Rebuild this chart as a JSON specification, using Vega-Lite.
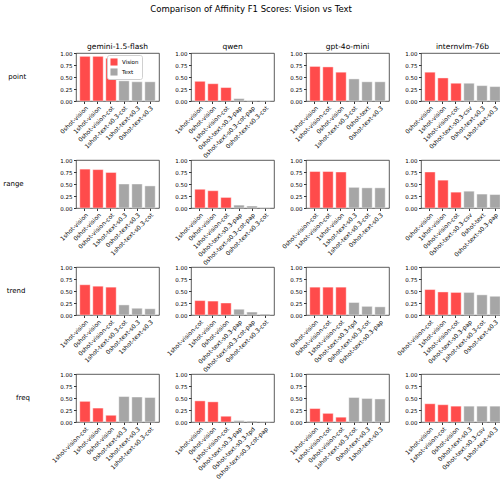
{
  "$schema": "https://vega.github.io/schema/vega-lite/v6.json",
  "padding": {"left": 3, "top": 5, "right": 10, "bottom": 5},
  "title": {"text": "Comparison of Affinity F1 Scores: Vision vs Text", "fontSize": 8.5, "fontWeight": "normal", "font": "DejaVu Sans", "color": "#000", "offset": 29, "anchor": "start", "dx": 147},
  "config": {
    "font": "DejaVu Sans",
    "view": {"stroke": "#333", "strokeWidth": 0.8},
    "axis": {"labelFont": "DejaVu Sans", "labelColor": "#000", "tickColor": "#333", "domain": false, "grid": false, "tickSize": 2.5, "labelFontSize": 5.5}
  },
  "data": {"values": [
    {"model": "gemini-1.5-flash", "metric": "point", "label": "0shot-vision", "type": "Vision", "order": 1, "value": 0.93},
    {"model": "gemini-1.5-flash", "metric": "point", "label": "1shot-vision", "type": "Vision", "order": 2, "value": 0.93},
    {"model": "gemini-1.5-flash", "metric": "point", "label": "0shot-vision-cot", "type": "Vision", "order": 3, "value": 0.89},
    {"model": "gemini-1.5-flash", "metric": "point", "label": "1shot-text-s0.3-cot", "type": "Text", "order": 4, "value": 0.42},
    {"model": "gemini-1.5-flash", "metric": "point", "label": "1shot-text-s0.3", "type": "Text", "order": 5, "value": 0.40},
    {"model": "gemini-1.5-flash", "metric": "point", "label": "0shot-text-s0.3", "type": "Text", "order": 6, "value": 0.40},

    {"model": "qwen", "metric": "point", "label": "1shot-vision", "type": "Vision", "order": 1, "value": 0.41},
    {"model": "qwen", "metric": "point", "label": "0shot-vision", "type": "Vision", "order": 2, "value": 0.36},
    {"model": "qwen", "metric": "point", "label": "1shot-vision-cot", "type": "Vision", "order": 3, "value": 0.28},
    {"model": "qwen", "metric": "point", "label": "0shot-text-s0.3-pap", "type": "Text", "order": 4, "value": 0.05},
    {"model": "qwen", "metric": "point", "label": "0shot-text-s0.3-cot-pap", "type": "Text", "order": 5, "value": 0.012},
    {"model": "qwen", "metric": "point", "label": "0shot-text-s0.3-cot", "type": "Text", "order": 6, "value": 0.006},

    {"model": "gpt-4o-mini", "metric": "point", "label": "1shot-vision", "type": "Vision", "order": 1, "value": 0.72},
    {"model": "gpt-4o-mini", "metric": "point", "label": "1shot-vision-cot", "type": "Vision", "order": 2, "value": 0.71},
    {"model": "gpt-4o-mini", "metric": "point", "label": "0shot-vision", "type": "Vision", "order": 3, "value": 0.60},
    {"model": "gpt-4o-mini", "metric": "point", "label": "1shot-text-s0.3-cot", "type": "Text", "order": 4, "value": 0.46},
    {"model": "gpt-4o-mini", "metric": "point", "label": "0shot-text", "type": "Text", "order": 5, "value": 0.40},
    {"model": "gpt-4o-mini", "metric": "point", "label": "0shot-text-s0.3", "type": "Text", "order": 6, "value": 0.40},

    {"model": "internvlm-76b", "metric": "point", "label": "0shot-vision", "type": "Vision", "order": 1, "value": 0.60},
    {"model": "internvlm-76b", "metric": "point", "label": "1shot-vision", "type": "Vision", "order": 2, "value": 0.48},
    {"model": "internvlm-76b", "metric": "point", "label": "1shot-vision-cot", "type": "Vision", "order": 3, "value": 0.37},
    {"model": "internvlm-76b", "metric": "point", "label": "0shot-text-s0.3-csv", "type": "Text", "order": 4, "value": 0.37},
    {"model": "internvlm-76b", "metric": "point", "label": "0shot-text-s0.3", "type": "Text", "order": 5, "value": 0.32},
    {"model": "internvlm-76b", "metric": "point", "label": "1shot-text-s0.3", "type": "Text", "order": 6, "value": 0.30},

    {"model": "gemini-1.5-flash", "metric": "range", "label": "1shot-vision", "type": "Vision", "order": 1, "value": 0.81},
    {"model": "gemini-1.5-flash", "metric": "range", "label": "0shot-vision", "type": "Vision", "order": 2, "value": 0.80},
    {"model": "gemini-1.5-flash", "metric": "range", "label": "0shot-vision-cot", "type": "Vision", "order": 3, "value": 0.74},
    {"model": "gemini-1.5-flash", "metric": "range", "label": "1shot-text-s0.3", "type": "Text", "order": 4, "value": 0.50},
    {"model": "gemini-1.5-flash", "metric": "range", "label": "0shot-text-s0.3", "type": "Text", "order": 5, "value": 0.50},
    {"model": "gemini-1.5-flash", "metric": "range", "label": "1shot-text-s0.3-cot", "type": "Text", "order": 6, "value": 0.46},

    {"model": "qwen", "metric": "range", "label": "1shot-vision", "type": "Vision", "order": 1, "value": 0.39},
    {"model": "qwen", "metric": "range", "label": "0shot-vision", "type": "Vision", "order": 2, "value": 0.36},
    {"model": "qwen", "metric": "range", "label": "1shot-vision-cot", "type": "Vision", "order": 3, "value": 0.22},
    {"model": "qwen", "metric": "range", "label": "0shot-text-s0.3-pap", "type": "Text", "order": 4, "value": 0.06},
    {"model": "qwen", "metric": "range", "label": "0shot-text-s0.3-cot-pap", "type": "Text", "order": 5, "value": 0.04},
    {"model": "qwen", "metric": "range", "label": "0shot-text-s0.3-cot", "type": "Text", "order": 6, "value": 0.01},

    {"model": "gpt-4o-mini", "metric": "range", "label": "0shot-vision-cot", "type": "Vision", "order": 1, "value": 0.76},
    {"model": "gpt-4o-mini", "metric": "range", "label": "1shot-vision-cot", "type": "Vision", "order": 2, "value": 0.76},
    {"model": "gpt-4o-mini", "metric": "range", "label": "1shot-vision", "type": "Vision", "order": 3, "value": 0.75},
    {"model": "gpt-4o-mini", "metric": "range", "label": "1shot-text-s0.3", "type": "Text", "order": 4, "value": 0.43},
    {"model": "gpt-4o-mini", "metric": "range", "label": "1shot-text-s0.3-cot", "type": "Text", "order": 5, "value": 0.42},
    {"model": "gpt-4o-mini", "metric": "range", "label": "0shot-text-s0.3", "type": "Text", "order": 6, "value": 0.42},

    {"model": "internvlm-76b", "metric": "range", "label": "0shot-vision", "type": "Vision", "order": 1, "value": 0.75},
    {"model": "internvlm-76b", "metric": "range", "label": "1shot-vision", "type": "Vision", "order": 2, "value": 0.58},
    {"model": "internvlm-76b", "metric": "range", "label": "0shot-vision-cot", "type": "Vision", "order": 3, "value": 0.33},
    {"model": "internvlm-76b", "metric": "range", "label": "0shot-text-s0.3-csv", "type": "Text", "order": 4, "value": 0.35},
    {"model": "internvlm-76b", "metric": "range", "label": "0shot-text", "type": "Text", "order": 5, "value": 0.29},
    {"model": "internvlm-76b", "metric": "range", "label": "0shot-text-s0.3-pap", "type": "Text", "order": 6, "value": 0.28},

    {"model": "gemini-1.5-flash", "metric": "trend", "label": "1shot-vision", "type": "Vision", "order": 1, "value": 0.63},
    {"model": "gemini-1.5-flash", "metric": "trend", "label": "0shot-vision", "type": "Vision", "order": 2, "value": 0.60},
    {"model": "gemini-1.5-flash", "metric": "trend", "label": "0shot-vision-cot", "type": "Vision", "order": 3, "value": 0.58},
    {"model": "gemini-1.5-flash", "metric": "trend", "label": "1shot-text-s0.3-cot", "type": "Text", "order": 4, "value": 0.21},
    {"model": "gemini-1.5-flash", "metric": "trend", "label": "0shot-text-s0.3", "type": "Text", "order": 5, "value": 0.14},
    {"model": "gemini-1.5-flash", "metric": "trend", "label": "1shot-text-s0.3", "type": "Text", "order": 6, "value": 0.13},

    {"model": "qwen", "metric": "trend", "label": "1shot-vision-cot", "type": "Vision", "order": 1, "value": 0.30},
    {"model": "qwen", "metric": "trend", "label": "1shot-vision", "type": "Vision", "order": 2, "value": 0.29},
    {"model": "qwen", "metric": "trend", "label": "0shot-vision", "type": "Vision", "order": 3, "value": 0.25},
    {"model": "qwen", "metric": "trend", "label": "0shot-text-s0.3-pap", "type": "Text", "order": 4, "value": 0.12},
    {"model": "qwen", "metric": "trend", "label": "0shot-text-s0.3-cot-pap", "type": "Text", "order": 5, "value": 0.06},
    {"model": "qwen", "metric": "trend", "label": "0shot-text-s0.3-cot", "type": "Text", "order": 6, "value": 0.02},

    {"model": "gpt-4o-mini", "metric": "trend", "label": "0shot-vision", "type": "Vision", "order": 1, "value": 0.58},
    {"model": "gpt-4o-mini", "metric": "trend", "label": "0shot-vision-cot", "type": "Vision", "order": 2, "value": 0.58},
    {"model": "gpt-4o-mini", "metric": "trend", "label": "1shot-vision-cot", "type": "Vision", "order": 3, "value": 0.58},
    {"model": "gpt-4o-mini", "metric": "trend", "label": "0shot-text-s0.3-tpd", "type": "Text", "order": 4, "value": 0.26},
    {"model": "gpt-4o-mini", "metric": "trend", "label": "0shot-text-s0.3-cot", "type": "Text", "order": 5, "value": 0.18},
    {"model": "gpt-4o-mini", "metric": "trend", "label": "0shot-text-s0.3-pap", "type": "Text", "order": 6, "value": 0.17},

    {"model": "internvlm-76b", "metric": "trend", "label": "0shot-vision-cot", "type": "Vision", "order": 1, "value": 0.53},
    {"model": "internvlm-76b", "metric": "trend", "label": "1shot-vision", "type": "Vision", "order": 2, "value": 0.48},
    {"model": "internvlm-76b", "metric": "trend", "label": "1shot-vision-cot", "type": "Vision", "order": 3, "value": 0.47},
    {"model": "internvlm-76b", "metric": "trend", "label": "0shot-text-s0.3-pap", "type": "Text", "order": 4, "value": 0.47},
    {"model": "internvlm-76b", "metric": "trend", "label": "1shot-text-s0.3-cot", "type": "Text", "order": 5, "value": 0.42},
    {"model": "internvlm-76b", "metric": "trend", "label": "0shot-text-s0.3", "type": "Text", "order": 6, "value": 0.39},

    {"model": "gemini-1.5-flash", "metric": "freq", "label": "1shot-vision-cot", "type": "Vision", "order": 1, "value": 0.43},
    {"model": "gemini-1.5-flash", "metric": "freq", "label": "1shot-vision", "type": "Vision", "order": 2, "value": 0.29},
    {"model": "gemini-1.5-flash", "metric": "freq", "label": "0shot-vision", "type": "Vision", "order": 3, "value": 0.14},
    {"model": "gemini-1.5-flash", "metric": "freq", "label": "0shot-text-s0.3", "type": "Text", "order": 4, "value": 0.53},
    {"model": "gemini-1.5-flash", "metric": "freq", "label": "1shot-text-s0.3", "type": "Text", "order": 5, "value": 0.52},
    {"model": "gemini-1.5-flash", "metric": "freq", "label": "1shot-text-s0.3-cot", "type": "Text", "order": 6, "value": 0.51},

    {"model": "qwen", "metric": "freq", "label": "1shot-vision", "type": "Vision", "order": 1, "value": 0.44},
    {"model": "qwen", "metric": "freq", "label": "0shot-vision", "type": "Vision", "order": 2, "value": 0.42},
    {"model": "qwen", "metric": "freq", "label": "1shot-vision-cot", "type": "Vision", "order": 3, "value": 0.12},
    {"model": "qwen", "metric": "freq", "label": "0shot-text-s0.3-pap", "type": "Text", "order": 4, "value": 0.03},
    {"model": "qwen", "metric": "freq", "label": "0shot-text-s0.3-tpd", "type": "Text", "order": 5, "value": 0.02},
    {"model": "qwen", "metric": "freq", "label": "0shot-text-s0.3-cot-pap", "type": "Text", "order": 6, "value": 0.01},

    {"model": "gpt-4o-mini", "metric": "freq", "label": "1shot-vision", "type": "Vision", "order": 1, "value": 0.28},
    {"model": "gpt-4o-mini", "metric": "freq", "label": "1shot-vision-cot", "type": "Vision", "order": 2, "value": 0.18},
    {"model": "gpt-4o-mini", "metric": "freq", "label": "0shot-vision-cot", "type": "Vision", "order": 3, "value": 0.10},
    {"model": "gpt-4o-mini", "metric": "freq", "label": "1shot-text-s0.3-cot", "type": "Text", "order": 4, "value": 0.51},
    {"model": "gpt-4o-mini", "metric": "freq", "label": "0shot-text-s0.3", "type": "Text", "order": 5, "value": 0.49},
    {"model": "gpt-4o-mini", "metric": "freq", "label": "1shot-text-s0.3", "type": "Text", "order": 6, "value": 0.48},

    {"model": "internvlm-76b", "metric": "freq", "label": "1shot-vision", "type": "Vision", "order": 1, "value": 0.38},
    {"model": "internvlm-76b", "metric": "freq", "label": "1shot-vision-cot", "type": "Vision", "order": 2, "value": 0.36},
    {"model": "internvlm-76b", "metric": "freq", "label": "0shot-vision", "type": "Vision", "order": 3, "value": 0.33},
    {"model": "internvlm-76b", "metric": "freq", "label": "0shot-text-s0.3", "type": "Text", "order": 4, "value": 0.33},
    {"model": "internvlm-76b", "metric": "freq", "label": "0shot-text-s0.3-csv", "type": "Text", "order": 5, "value": 0.33},
    {"model": "internvlm-76b", "metric": "freq", "label": "1shot-text-s0.3", "type": "Text", "order": 6, "value": 0.33}
  ]},
  "facet": {
    "row": {"field": "metric", "type": "nominal", "sort": ["point", "range", "trend", "freq"], "title": null,
      "header": {"labelAngle": 0, "labelOrient": "left", "labelAlign": "right", "labelFontSize": 7, "labelFont": "DejaVu Sans", "labelColor": "#000", "labelPadding": 32}},
    "column": {"field": "model", "type": "nominal", "sort": ["gemini-1.5-flash", "qwen", "gpt-4o-mini", "internvlm-76b"], "title": null,
      "header": {"labelFontSize": 7.5, "labelFont": "DejaVu Sans", "labelColor": "#000", "labelPadding": 3}}
  },
  "spacing": {"row": 59, "column": 32},
  "bounds": "flush",
  "resolve": {"scale": {"x": "independent"}, "axis": {"x": "independent", "y": "independent"}},
  "spec": {
    "width": 83,
    "height": 48,
    "mark": {"type": "bar", "stroke": "#ffffff", "strokeWidth": 0.6, "strokeOpacity": 0.7},
    "encoding": {
      "x": {"field": "label", "type": "nominal", "sort": {"field": "order", "op": "min"}, "title": null,
        "scale": {"paddingInner": 0.2, "paddingOuter": 0.29},
        "axis": {"labelAngle": -45, "labelFontSize": 6, "labelPadding": 1, "labelOverlap": false, "labelLimit": 200}},
      "y": {"field": "value", "type": "quantitative", "title": null,
        "scale": {"domain": [0, 1], "nice": false},
        "axis": {"values": [0, 0.25, 0.5, 0.75, 1], "format": ".2f", "labelFontSize": 5.5, "labelPadding": 1.5}},
      "color": {"field": "type", "type": "nominal", "title": null,
        "scale": {"domain": ["Vision", "Text"], "range": ["#ff4b4b", "#a6a6a6"]},
        "legend": {"orient": "none", "legendX": 31, "legendY": 2, "symbolType": "square", "symbolSize": 50, "labelFontSize": 5.5, "labelColor": "#000",
          "fillColor": "#ffffff", "strokeColor": "#d0d0d0", "padding": 3, "rowPadding": 2, "cornerRadius": 2, "symbolStrokeWidth": 0}}
    }
  }
}
